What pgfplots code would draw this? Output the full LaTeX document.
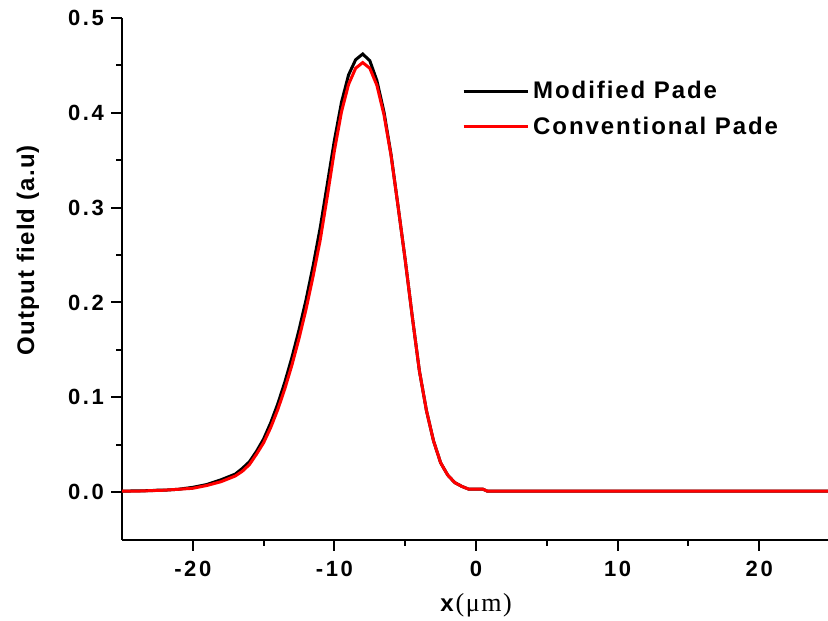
\documentclass[border=0pt]{standalone}
\usepackage{fontspec}
\setmainfont{Liberation Sans}
\newfontfamily\tickfont[LetterSpace=12]{Liberation Sans}
\newfontfamily\legfont[LetterSpace=8]{Liberation Sans}
\newfontfamily\labfont[LetterSpace=5]{Liberation Sans}
\newfontfamily\seriffont[LetterSpace=6]{Liberation Serif}
\usepackage{pgfplots}
\pgfplotsset{compat=1.18}
\begin{document}
\begin{tikzpicture}
\begin{axis}[
  at={(61pt,40.25pt)}, anchor=south west,
  scale only axis, width=354pt, height=260.75pt,
  xmin=-25, xmax=25, ymin=-0.05, ymax=0.5,
  axis lines*=left,
  axis line style={line width=1pt},
  xtick={-20,-10,0,10,20}, ytick={0,0.1,0.2,0.3,0.4,0.5},
  minor x tick num=1, minor y tick num=1,
  tick align=outside,
  major tick length=5.5pt, minor tick length=3pt,
  every tick/.style={black, line width=1pt},
  /pgf/number format/assume math mode=true,
  yticklabel style={/pgf/number format/.cd, fixed, fixed zerofill, precision=1},
  xticklabel style={yshift=-2pt},
  tick label style={font=\tickfont\bfseries\fontsize{11}{13}\selectfont},
  every axis y label/.style={at={(axis description cs:-0.133,0.555)}, rotate=90, anchor=center},
  every axis x label/.style={at={(axis description cs:0.5,-0.126)}, anchor=center},
  ylabel={\labfont\bfseries\fontsize{12}{14}\selectfont Output field (a.u)},
  xlabel={{\bfseries\fontsize{12}{14}\selectfont x}\hspace{1pt}{\seriffont\fontsize{13}{15}\selectfont(μm)}},
  legend style={draw=none, fill=none, at={(axis description cs:0.48,0.887)}, anchor=north west,
    font=\legfont\bfseries\fontsize{12}{14}\selectfont, row sep=3.5pt, inner sep=0pt, cells={anchor=west}},
  legend image code/.code={\draw[#1] (0pt,0pt) -- (32pt,0pt);},
  clip=false,
]
\addplot[black, line width=1.5pt] coordinates {
(-25,0.001) (-23,0.0015) (-22.5,0.002) (-22,0.002) (-21,0.003) (-20,0.005) (-19,0.008)
(-18,0.013) (-17,0.019) (-16.5,0.025) (-16,0.032) (-15.5,0.043) (-15,0.056) (-14.5,0.073)
(-14,0.093) (-13.5,0.116) (-13,0.142) (-12.5,0.171) (-12,0.203) (-11.5,0.239) (-11,0.279)
(-10.5,0.325) (-10,0.371) (-9.5,0.411) (-9,0.440) (-8.5,0.456) (-8,0.462) (-7.5,0.455)
(-7,0.434) (-6.5,0.401) (-6,0.356) (-5.5,0.301) (-5,0.245) (-4.5,0.185) (-4,0.128)
(-3.5,0.086) (-3,0.054) (-2.5,0.031) (-2,0.018) (-1.5,0.010) (-1,0.006) (-0.5,0.003)
(0,0.003) (0.5,0.003) (0.8,0.001) (25,0.001)
};
\addlegendentry{Modified Pade}
\addplot[red, line width=1.5pt] coordinates {
(-25,0.001) (-24,0.001) (-23,0.0015) (-22,0.002) (-21,0.003) (-20,0.004) (-19,0.007)
(-18,0.011) (-17,0.017) (-16.5,0.022) (-16,0.029) (-15.5,0.040) (-15,0.052) (-14.5,0.068)
(-14,0.087) (-13.5,0.109) (-13,0.134) (-12.5,0.162) (-12,0.193) (-11.5,0.228) (-11,0.266)
(-10.5,0.312) (-10,0.360) (-9.5,0.401) (-9,0.430) (-8.5,0.447) (-8,0.453) (-7.5,0.447)
(-7,0.429) (-6.5,0.398) (-6,0.355) (-5.5,0.301) (-5,0.245) (-4.5,0.185) (-4,0.128)
(-3.5,0.086) (-3,0.054) (-2.5,0.031) (-2,0.018) (-1.5,0.010) (-1,0.006) (-0.5,0.003)
(0,0.003) (0.5,0.003) (0.8,0.001) (25,0.001)
};
\addlegendentry{Conventional Pade}
\end{axis}
\pgfresetboundingbox
\useasboundingbox (0,0) rectangle (414pt,310pt);
\end{tikzpicture}
\end{document}
